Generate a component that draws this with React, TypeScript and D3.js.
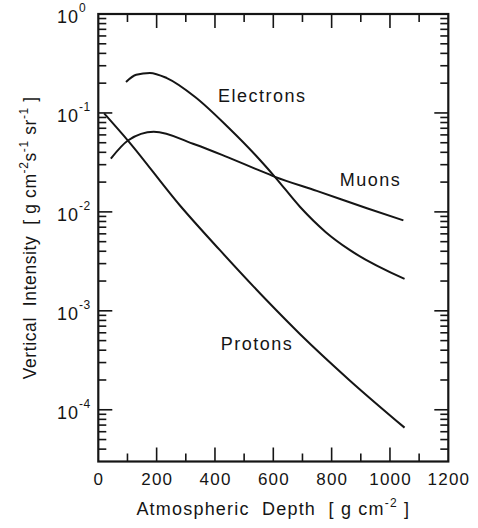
import React from 'react';
import * as d3 from 'd3';

// depth [g cm^-2], vertical intensity
const electrons: [number, number][] = [
  [95, 0.206], [130, 0.243], [177, 0.254], [235, 0.225], [332, 0.145],
  [445, 0.0717], [537, 0.038], [606, 0.0225], [692, 0.0112], [780, 0.00624],
  [863, 0.0041], [1050, 0.0021],
];
const muons: [number, number][] = [
  [43, 0.0346], [103, 0.053], [190, 0.0645], [332, 0.048], [445, 0.0355],
  [537, 0.0274], [606, 0.0226], [749, 0.0163], [921, 0.0109], [1046, 0.0082],
];
const protons: [number, number][] = [
  [20, 0.099], [103, 0.052], [280, 0.0116], [417, 0.0041], [578, 0.00127],
  [692, 0.00058], [863, 0.000197], [1050, 0.000066],
];
const labels = [
  { text: 'Electrons', depth: 410, value: 0.129 },
  { text: 'Muons', depth: 828, value: 0.0182 },
  { text: 'Protons', depth: 420, value: 0.000398 },
];
const xTickLabels = [0, 200, 400, 600, 800, 1000, 1200];
const yDecades = [0, -1, -2, -3, -4];

const W = 478;
const H = 528;
const left = 98.3;
const right = 448.3;
const top = 14;
const bottom = 461.5;
const font = '"Liberation Sans", Arial, Helvetica, sans-serif';
const ink = '#151515';

const App = () => {
  const x = d3.scaleLinear().domain([0, 1200]).range([left, right]);
  const y = d3.scaleLog().domain([3e-5, 1]).range([bottom, top]);

  const line = d3
    .line<[number, number]>()
    .x((d) => x(d[0]))
    .y((d) => y(d[1]))
    .curve(d3.curveMonotoneX);

  const yTicks = y.ticks().filter((v) => v > 3.01e-5 && v < 0.999);
  const isDecade = (v: number) => Math.abs(Math.log10(v) - Math.round(Math.log10(v))) < 1e-6;
  const xTicks = d3.range(100, 1200, 100);

  return (
    <div style={{ position: 'absolute', left: 0, top: 0 }}>
      <svg width={W} height={H} style={{ display: 'block', background: '#fff' }}>
        {/* ticks, inward on all four sides */}
        <g stroke={ink} strokeWidth={1.6}>
          {xTicks.map((t) => {
            const len = t % 200 === 0 ? 14 : 8;
            return (
              <g key={'x' + t}>
                <line x1={x(t)} x2={x(t)} y1={bottom} y2={bottom - len} />
                <line x1={x(t)} x2={x(t)} y1={top} y2={top + len} />
              </g>
            );
          })}
          {yTicks.map((t, i) => {
            const len = isDecade(t) ? 14 : 8;
            return (
              <g key={'y' + i}>
                <line x1={left} x2={left + len} y1={y(t)} y2={y(t)} />
                <line x1={right} x2={right - len} y1={y(t)} y2={y(t)} />
              </g>
            );
          })}
        </g>
        <rect
          x={left}
          y={top}
          width={right - left}
          height={bottom - top}
          fill="none"
          stroke={ink}
          strokeWidth={2.2}
        />

        {/* curves */}
        {[electrons, muons, protons].map((s, i) => (
          <path key={i} d={line(s) || undefined} fill="none" stroke={ink} strokeWidth={2} />
        ))}

        {/* curve labels */}
        {labels.map((l) => (
          <text
            key={l.text}
            x={x(l.depth)}
            y={y(l.value)}
            fontFamily={font}
            fontSize={18}
            letterSpacing={1.5}
            fill={ink}
          >
            {l.text}
          </text>
        ))}

        {/* x tick labels */}
        {xTickLabels.map((t) => (
          <text
            key={'xl' + t}
            x={x(t) + 0.6}
            y={485}
            textAnchor="middle"
            fontFamily={font}
            fontSize={17}
            letterSpacing={1.2}
            fill={ink}
          >
            {t}
          </text>
        ))}

        {/* y tick labels */}
        {yDecades.map((e) => (
          <text
            key={'yl' + e}
            x={57}
            y={y(Math.pow(10, e)) + 9}
            fontFamily={font}
            fontSize={18}
            letterSpacing={1}
            fill={ink}
          >
            10
            <tspan dy={-11} fontSize={12} letterSpacing={0.5}>
              {e === 0 ? '0' : '-' + Math.abs(e)}
            </tspan>
          </text>
        ))}

        {/* axis titles */}
        <text
          x={(left + right) / 2}
          y={515}
          textAnchor="middle"
          fontFamily={font}
          fontSize={18}
          letterSpacing={1.2}
          fill={ink}
          style={{ whiteSpace: 'pre' }}
        >
          {'Atmospheric  Depth  [ g cm'}
          <tspan dy={-8} fontSize={12}>-2</tspan>
          <tspan dy={8}>{' ]'}</tspan>
        </text>
        <text
          transform={`translate(36, ${(top + bottom) / 2}) rotate(-90)`}
          textAnchor="middle"
          fontFamily={font}
          fontSize={17.5}
          letterSpacing={0.6}
          fill={ink}
          style={{ whiteSpace: 'pre' }}
        >
          {'Vertical  Intensity  [ g cm'}
          <tspan dy={-8} fontSize={12}>-2</tspan>
          <tspan dy={8}>{'s'}</tspan>
          <tspan dy={-8} fontSize={12}>-1</tspan>
          <tspan dy={8}>{' sr'}</tspan>
          <tspan dy={-8} fontSize={12}>-1</tspan>
          <tspan dy={8}>{' ]'}</tspan>
        </text>
      </svg>
    </div>
  );
};

export default App;
